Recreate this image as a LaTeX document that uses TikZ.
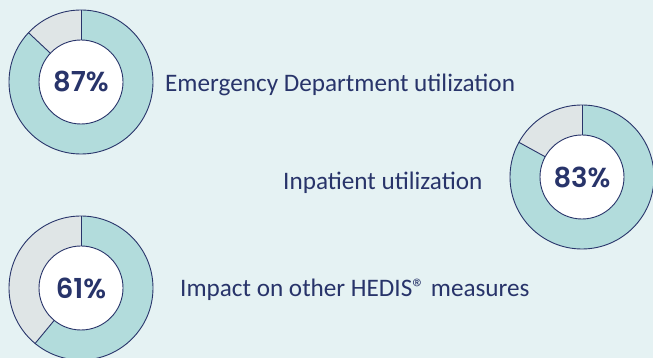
\documentclass[tikz,border=0pt]{standalone}
\usepackage{fontspec}
\setmainfont{Carlito}
\newfontfamily\pctfont{Poppins}[UprightFont=* SemiBold]
\usetikzlibrary{calc}
\definecolor{bgc}{HTML}{E5F2F3}
\definecolor{tealc}{HTML}{B2DCDC}
\definecolor{greyc}{HTML}{DFE5E6}
\definecolor{navy}{HTML}{28346A}
\tikzset{
  outline/.style={draw=navy, line width=0.9pt},
  hole/.style={circle, fill=white, draw=navy, line width=0.9pt, minimum size=84pt, inner sep=0pt, font=\pctfont\fontsize{27.5}{30}\selectfont, text=navy},
  lbl/.style={font=\fontsize{25.2}{28}\selectfont, text=navy, inner sep=0pt, anchor=base west}
}
\newcommand\mydonut[4]{% name, center, grey end angle, text
  \fill[tealc] (#2) circle (72pt);
  \fill[greyc] (#2) -- ($(#2)+(90:72pt)$) arc (90:#3:72pt) -- cycle;
  \draw[outline] (#2) circle (72pt);
  \draw[outline] ($(#2)+(90:42pt)$) -- ($(#2)+(90:72pt)$);
  \draw[outline] ($(#2)+(#3:42pt)$) -- ($(#2)+(#3:72pt)$);
  \node[hole] (#1) at (#2) {#4};
}
\begin{document}
\begin{tikzpicture}[x=1pt,y=1pt]
\fill[bgc] (0,0) rectangle (653,358);
\useasboundingbox (0,0) rectangle (653,358);
\coordinate (c1) at (81,276);
\coordinate (c2) at (582,181);
\coordinate (c3) at (81,70);
\mydonut{d1}{c1}{136.8}{87\%}
\mydonut{d2}{c2}{151.2}{83\%}
\mydonut{d3}{c3}{230.4}{61\%}
\node[lbl] (t1) at (165,266) {Emergency Department utilization};
\node[lbl] (t2) at (283,168) {Inpatient utilization};
\node[lbl] (t3) at (180,61) {Impact on other HEDIS® measures};
\end{tikzpicture}
\end{document}
